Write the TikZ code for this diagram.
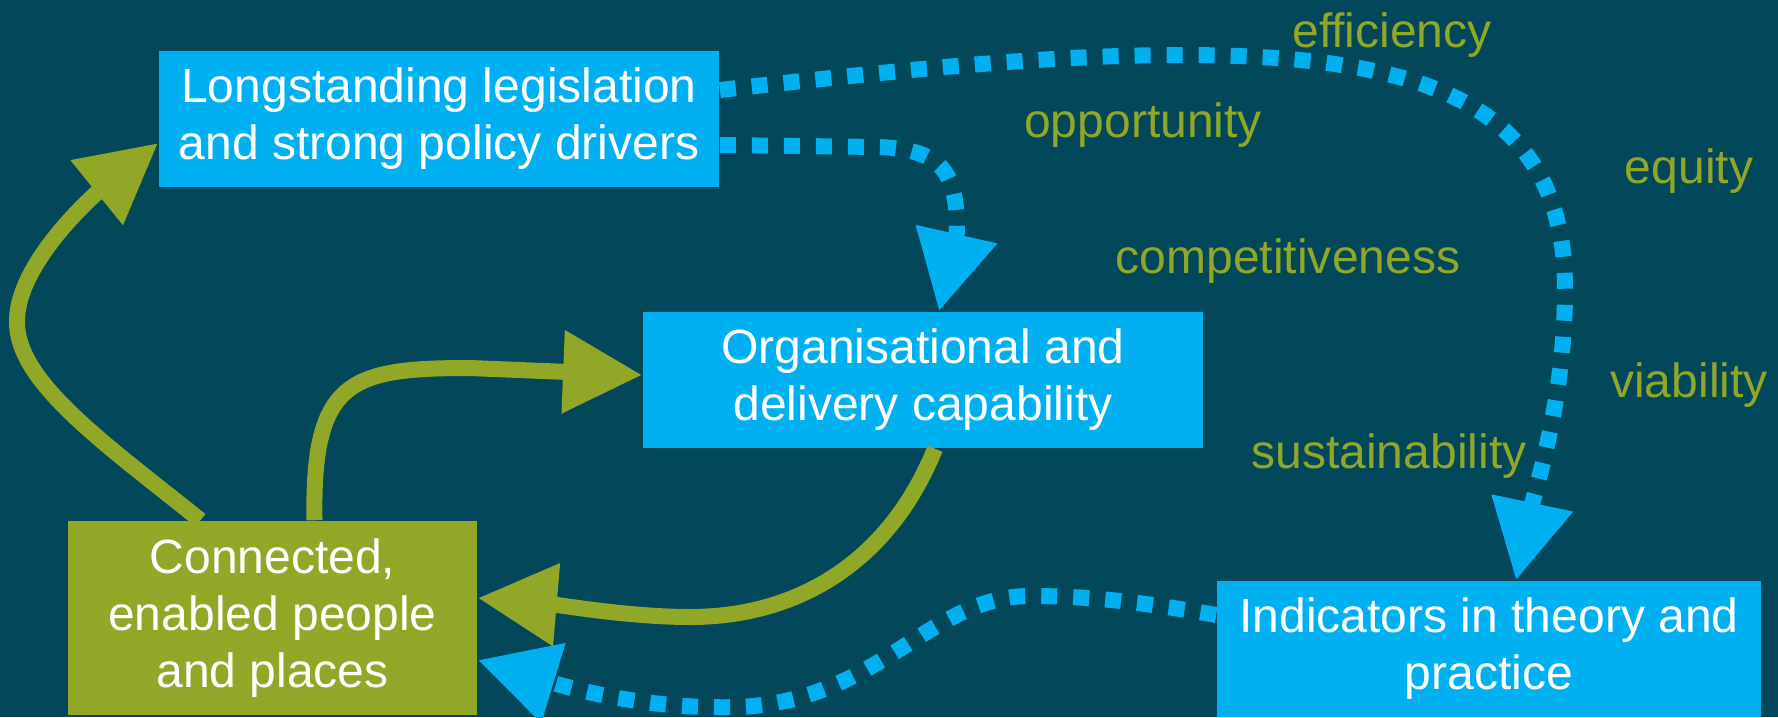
\documentclass[tikz,border=0pt]{standalone}
\usepackage{fontspec}
\setmainfont{Liberation Sans}
\usetikzlibrary{arrows.meta, positioning}

\definecolor{deepteal}{RGB}{2,72,90}
\definecolor{skyblue}{RGB}{0,176,240}
\definecolor{olivegreen}{RGB}{145,167,39}

\begin{document}
\begin{tikzpicture}[x=0.01cm, y=-0.01cm,
    box/.style={inner sep=0pt, align=center, text=white,
      font=\fontsize{13.66pt}{16.2pt}\selectfont},
    bluebox/.style={box, fill=skyblue, minimum height=1.36cm},
    greenbox/.style={box, fill=olivegreen, minimum width=4.09cm, minimum height=1.94cm},
    word/.style={anchor=base, inner sep=0pt, text=olivegreen,
      font=\fontsize{13.66pt}{16.2pt}\selectfont},
    feed/.style={line width=0.16cm, draw=olivegreen,
      -{Triangle[length=7.9mm, width=7.9mm]}},
    dashlink/.style={line width=0.16cm, draw=skyblue,
      dash pattern=on 0.16cm off 0.16cm,
      -{Triangle[length=7.9mm, width=7.9mm, fill=skyblue]}}]
  \useasboundingbox (0,0) rectangle (1778,717);
  \fill[deepteal] (0,0) rectangle (1778,717);

  \node[bluebox, minimum width=5.6cm] (leg) at (439,119)
    {Longstanding legislation\\and strong policy drivers};
  \node[bluebox, minimum width=5.6cm] (org) at (923,380)
    {Organisational and\\delivery capability};
  \node[bluebox, minimum width=5.44cm] (ind) at (1489,649)
    {Indicators in theory and\\practice};
  \node[greenbox] (conn) at (272.5,618)
    {Connected,\\enabled people\\and places};

  \node[word] (efficiency) at (1392,47) {efficiency};
  \node[word] (opportunity) at (1143,137) {opportunity};
  \node[word] (equity) at (1689,183) {equity};
  \node[word] (competitiveness) at (1288,273) {competitiveness};
  \node[word] (viability) at (1689,397) {viability};
  \node[word] (sustainability) at (1389,468) {sustainability};

  % dotted links
  \draw[dashlink] ([yshift=0.29cm]leg.east) .. controls (900,70) and (1050,55) .. (1180,55)
    .. controls (1420,55) and (1565,100) .. (1565,290)
    .. controls (1565,400) and (1535,490) .. ([xshift=0.27cm]ind.north);
  \draw[dashlink] ([yshift=-0.26cm]leg.east) -- (880,147)
    .. controls (945,150) and (957,175) .. (957,232) -- ([xshift=0.16cm]org.north);
  \draw[dashlink] ([yshift=0.34cm]ind.west) .. controls (1130,600) and (1080,596) .. (1030,596)
    .. controls (930,596) and (880,700) .. (740,707)
    .. controls (640,710) and (560,685) .. ([yshift=-0.42cm]conn.east);

  % solid feedback arrows
  \draw[feed] ([xshift=0.12cm]org.south) .. controls (890,560) and (800,617) .. (690,617)
    .. controls (630,617) and (560,605) .. ([yshift=0.2cm]conn.east);
  \draw[feed] ([xshift=0.42cm]conn.north) .. controls (312,380) and (350,368) .. (470,368)
    -- ([yshift=0.05cm]org.west);
  \draw[feed] ([xshift=-0.72cm]conn.north) .. controls (100,440) and (15,380) .. (17,320)
    .. controls (18,260) and (100,190) .. ([yshift=-0.24cm]leg.west);
\end{tikzpicture}
\end{document}
